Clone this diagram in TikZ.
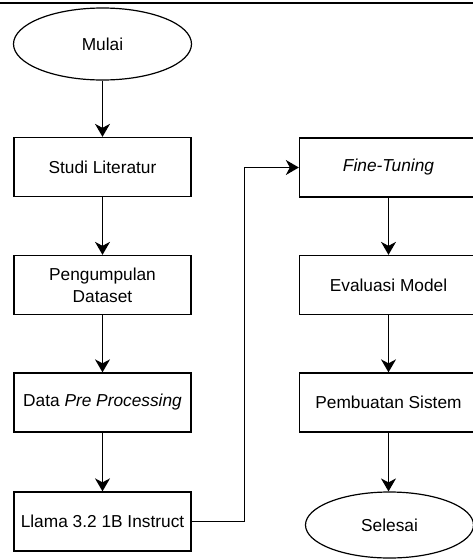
\documentclass[tikz,border=0pt]{standalone}
\usepackage{fontspec}
\setmainfont{Liberation Sans}
\usetikzlibrary{shapes.geometric,arrows.meta}

\begin{document}
\begin{tikzpicture}[x=1pt,y=-1pt,
		proses/.style={draw,line width=1.3pt,minimum width=177pt,minimum height=59pt,inner sep=0pt,align=center,font=\fontsize{17.3}{21.7}\selectfont},
		terminal/.style={draw,ellipse,line width=1.2pt,inner sep=0pt,font=\fontsize{17.3}{21.7}\selectfont},
		panah/.style={-{Stealth[length=13pt,width=15pt,inset=4pt]},line width=1.3pt}]
		\useasboundingbox (0,0) rectangle (473,560);
		\clip (0,0) rectangle (473,560);
		\draw[line width=2.5pt] (0,3) -- (473,3);
		% kolom kiri
		\node[terminal,minimum width=178pt,minimum height=72pt] (mulai) at (102.5,44) {Mulai};
		\node[proses] (studi) at (102.5,167) {Studi Literatur};
		\node[proses] (kumpul) at (102.5,285) {Pengumpulan\\Dataset};
		\node[proses] (prepro) at (102.5,402.5) {Data \textit{Pre Processing}};
		\node[proses] (llama) at (102.5,521.5) {Llama 3.2 1B Instruct};
		% kolom kanan
		\node[proses,minimum width=178pt] (tuning) at (388.5,167.5) {\textit{Fine-Tuning}};
		\node[proses,minimum width=178pt] (evaluasi) at (388.5,285) {Evaluasi Model};
		\node[proses,minimum width=178pt] (sistem) at (388.5,402.5) {Pembuatan Sistem};
		\node[terminal,minimum width=168pt,minimum height=66pt] (selesai) at (389.5,525) {Selesai};
		% panah
		\draw[panah] (mulai) -- (studi);
		\draw[panah] (studi) -- (kumpul);
		\draw[panah] (kumpul) -- (prepro);
		\draw[panah] (prepro) -- (llama);
		\draw[panah] (llama.east) -- ++(53,0) |- (tuning.west);
		\draw[panah] (tuning) -- (evaluasi);
		\draw[panah] (evaluasi) -- (sistem);
		\draw[panah] (sistem.south) -- (sistem.south |- selesai.north);
	\end{tikzpicture}
\end{document}
